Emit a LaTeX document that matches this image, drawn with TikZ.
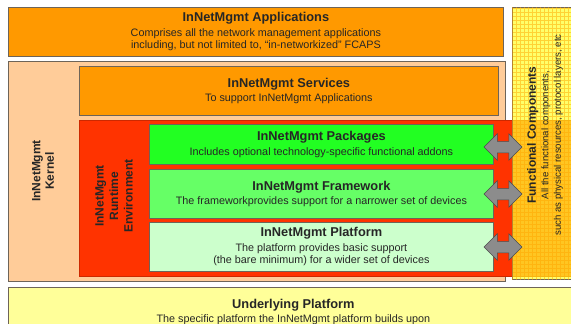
\documentclass[tikz,border=0pt]{standalone}
\usepackage{fontspec}
\setmainfont{Liberation Sans}
\usetikzlibrary{shapes.arrows}

\definecolor{appOrange}{HTML}{FF9900}
\definecolor{kernPeach}{HTML}{FFCC99}
\definecolor{rteRed}{HTML}{FF3300}
\definecolor{pkgGreen}{HTML}{22FF22}
\definecolor{fwGreen}{HTML}{66FF66}
\definecolor{platGreen}{HTML}{CCFFCC}
\definecolor{baseYellow}{HTML}{FFFF99}
\definecolor{fcYellow}{HTML}{FFFF30}
\definecolor{edgeGray}{HTML}{6E6458}

\newcommand{\ttl}[1]{{\fontsize{12.8}{15}\selectfont\bfseries #1}\\[1.5pt]}

\begin{document}
\begin{tikzpicture}[x=1pt, y=-1pt,
    layer/.style = {draw=edgeGray, line width=0.8pt, anchor=north west, inner sep=0pt,
                    align=center, text=black!85, font=\fontsize{10.8}{12.8}\selectfont},
    sidelbl/.style = {rotate=90, align=center, text=black!85,
                      font=\fontsize{12}{13.5}\selectfont\bfseries},
    dblarrow/.style = {double arrow, draw=gray!60!black, fill=gray!90, line width=0.5pt,
                       inner xsep=0pt, inner ysep=5.5pt, minimum height=38pt, minimum width=26pt,
                       double arrow head extend=7.5pt},
    gridline/.style = {draw=orange!70!yellow, line width=0.35pt, opacity=0.5}]
  \useasboundingbox (0,0) rectangle (571,324);

  % top layer
  \node[layer, fill=appOrange, minimum width=495pt, minimum height=49pt] (apps) at (8,7)
    {\ttl{InNetMgmt Applications}Comprises all the network management applications\\including, but not limited to, ``in-networkized'' FCAPS};

  % kernel and its inner layers
  \node[layer, fill=kernPeach, minimum width=497pt, minimum height=220pt] (kernel) at (8,61) {};
  \node[layer, fill=appOrange, minimum width=419pt, minimum height=49pt] (services) at (79,66)
    {\ttl{InNetMgmt Services}To support InNetMgmt Applications};
  \node[layer, draw=rteRed!80!black, fill=rteRed, minimum width=500pt, minimum height=156pt] (runtime) at (79,120) {};
  \node[layer, fill=pkgGreen, minimum width=344pt, minimum height=40pt] (packages) at (149,124)
    {\ttl{InNetMgmt Packages}Includes optional technology-specific functional addons};
  \node[layer, fill=fwGreen, minimum width=344pt, minimum height=49pt] (framework) at (149,169)
    {\ttl{InNetMgmt Framework}The frameworkprovides support for a narrower set of devices};
  \node[layer, fill=platGreen, minimum width=344pt, minimum height=49pt] (platform) at (149,222)
    {\ttl{InNetMgmt Platform}The platform provides basic support\\(the bare minimum) for a wider set of devices};

  \node[sidelbl] (kernLbl) at (43,171) {InNetMgmt\\Kernel};
  \node[sidelbl, font=\fontsize{12}{14.5}\selectfont\bfseries] (rteLbl) at (114,196) {InNetMgmt\\Runtime\\Environment};

  % functional components column
  \node[layer, fill=fcYellow, fill opacity=0.72, minimum width=70pt, minimum height=272pt] (func) at (512,7) {};
  \begin{scope}
    \clip (func.north west) rectangle (func.south east);
    \draw[gridline] (func.north west) grid[step=4pt] (func.south east);
  \end{scope}

  \node[dblarrow] (arrPkg) at (503,147) {};
  \node[dblarrow] (arrFw) at (503,194) {};
  \node[dblarrow] (arrPlat) at (503,247) {};

  \node[rotate=90, align=center, text=black!85, font=\fontsize{9.6}{12.5}\selectfont] (funcLbl) at (545,135)
    {{\fontsize{12}{12.5}\selectfont\bfseries Functional Components}\\All the functional components,\\such as physical resources, protocol layers, etc};

  % bottom layer
  \node[layer, fill=baseYellow, minimum width=570pt, minimum height=49pt] (base) at (8,287)
    {\ttl{Underlying Platform}The specific platform the InNetMgmt platform builds upon};
\end{tikzpicture}
\end{document}
